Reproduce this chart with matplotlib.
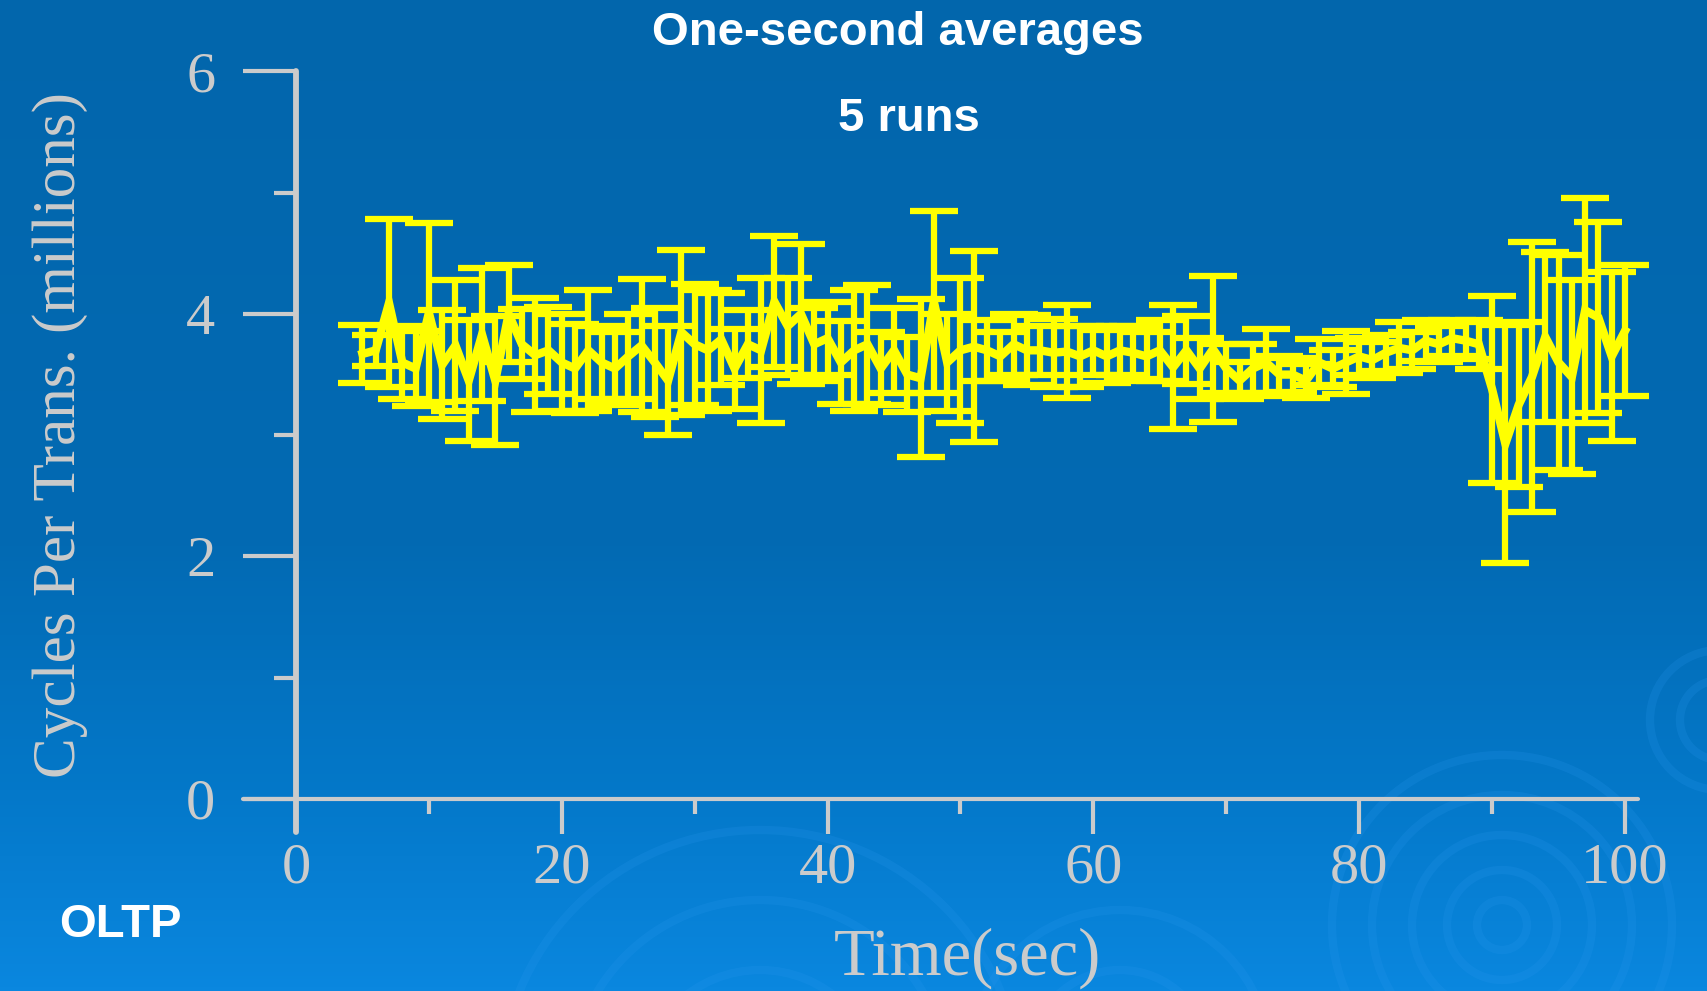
import numpy as np
import matplotlib
matplotlib.use("Agg")
import matplotlib.pyplot as plt
from matplotlib.colors import LinearSegmentedColormap
from matplotlib.patches import Circle

# one-second averages over 5 runs (millions of cycles per transaction)
seconds = list(range(5, 101))
cpt_mean = [
    3.67, 3.70, 4.09, 3.60, 3.55, 4.01, 3.58, 3.74, 3.45, 3.83,   # 5-14
    3.45, 4.00, 3.75, 3.66, 3.70, 3.60, 3.55, 3.70, 3.60, 3.55,   # 15-24
    3.65, 3.74, 3.60, 3.45, 3.85, 3.75, 3.70, 3.79, 3.55, 3.75,   # 25-34
    3.70, 4.10, 3.90, 4.00, 3.75, 3.80, 3.60, 3.70, 3.75, 3.55,   # 35-44
    3.70, 3.50, 3.47, 4.10, 3.60, 3.70, 3.73, 3.70, 3.65, 3.75,   # 45-54
    3.70, 3.70, 3.68, 3.69, 3.65, 3.70, 3.65, 3.70, 3.68, 3.65,   # 55-64
    3.70, 3.56, 3.70, 3.55, 3.71, 3.55, 3.45, 3.55, 3.60, 3.50,   # 65-74
    3.50, 3.45, 3.60, 3.55, 3.60, 3.65, 3.62, 3.68, 3.72, 3.70,   # 75-84
    3.78, 3.75, 3.80, 3.78, 3.75, 3.38, 2.93, 3.25, 3.48, 3.81,   # 85-94
    3.60, 3.48, 4.03, 3.97, 3.65, 3.86,                           # 95-100
]
cpt_err = [
    0.24, 0.13, 0.69, 0.30, 0.31, 0.74, 0.45, 0.54, 0.50, 0.55,
    0.53, 0.40, 0.29, 0.47, 0.36, 0.40, 0.37, 0.50, 0.30, 0.30,
    0.35, 0.55, 0.45, 0.45, 0.68, 0.50, 0.50, 0.38, 0.33, 0.28,
    0.60, 0.54, 0.40, 0.58, 0.30, 0.30, 0.34, 0.50, 0.49, 0.30,
    0.35, 0.31, 0.65, 0.75, 0.40, 0.60, 0.79, 0.25, 0.20, 0.25,
    0.29, 0.20, 0.28, 0.38, 0.25, 0.20, 0.22, 0.20, 0.22, 0.20,
    0.25, 0.51, 0.28, 0.25, 0.60, 0.20, 0.15, 0.20, 0.28, 0.15,
    0.14, 0.14, 0.19, 0.15, 0.26, 0.15, 0.15, 0.15, 0.21, 0.15,
    0.17, 0.15, 0.15, 0.15, 0.20, 0.77, 0.98, 0.68, 1.11, 0.70,
    0.89, 0.80, 0.93, 0.79, 0.70, 0.54,
]

x_major = [0, 20, 40, 60, 80, 100]
x_minor = [10, 30, 50, 70, 90]
y_major = [0, 2, 4, 6]
y_minor = [1, 3, 5]

AXIS_GREY = "#cbcbcb"
SERIF = ["Liberation Serif", "DejaVu Serif"]
SANS = ["Liberation Sans", "DejaVu Sans"]

W, H = 1707, 991
fig = plt.figure(figsize=(W / 100, H / 100), dpi=100)

# ── slide background: vertical blue gradient with faint ripples ──────
bg = fig.add_axes([0, 0, 1, 1], zorder=0)
grad = LinearSegmentedColormap.from_list(
    "slide", [(0.0, "#0266ac"), (0.55, "#026ab3"),
              (0.80, "#0478c9"), (1.0, "#0a87df")])
bg.imshow(np.linspace(0, 1, 256).reshape(-1, 1), cmap=grad,
          aspect="auto", extent=[0, W, H, 0], origin="upper")
for cx, cy, radii in [(1502, 925, [25, 55, 90, 130, 170]),
                      (760, 1090, [120, 190, 260]),
                      (1120, 1060, [90, 150]),
                      (1720, 720, [40, 70])]:
    for r in radii:
        bg.add_patch(Circle((cx, cy), r, fill=False, lw=6,
                            ec="#2a98ee", alpha=0.2))
bg.set_xlim(0, W)
bg.set_ylim(H, 0)
bg.axis("off")

# ── main chart ───────────────────────────────────────────────────────
ax = fig.add_axes([0.1111, 0.1326, 0.8720, 0.8320], zorder=1)
ax.set_facecolor("none")
ax.set_xlim(-8, 104)
ax.set_ylim(-0.5, 6.3)

ax.errorbar(seconds, cpt_mean, yerr=cpt_err, color="#ffff00",
            lw=6, elinewidth=4.5, capsize=17, capthick=4.5,
            solid_joinstyle="miter", zorder=3)

for side in ("top", "right"):
    ax.spines[side].set_visible(False)
ax.spines["left"].set_position(("data", 0))
ax.spines["bottom"].set_position(("data", 0))
ax.spines["left"].set_bounds(-0.27, 6)
ax.spines["bottom"].set_bounds(-4.0, 101)
ax.spines["left"].set_linewidth(4.2)
ax.spines["bottom"].set_linewidth(3)
for side in ("left", "bottom"):
    ax.spines[side].set_color(AXIS_GREY)
    ax.spines[side].set_capstyle("round")

ax.set_xticks(x_major)
ax.set_xticks(x_minor, minor=True)
ax.set_yticks(y_major)
ax.set_yticks(y_minor, minor=True)
ax.tick_params(axis="y", which="major", direction="out", length=38,
               width=3, color=AXIS_GREY, pad=20)
ax.tick_params(axis="y", which="minor", direction="out", length=16,
               width=3, color=AXIS_GREY)
ax.tick_params(axis="x", which="major", direction="out", length=25,
               width=3, color=AXIS_GREY, pad=6)
ax.tick_params(axis="x", which="minor", direction="out", length=11,
               width=3, color=AXIS_GREY)
for lab in ax.get_xticklabels() + ax.get_yticklabels():
    lab.set_family(SERIF)
    lab.set_fontsize(42)
    lab.set_color(AXIS_GREY)

# axis titles
fig.text(60 / W, 1 - 435 / H, "Cycles Per Trans. (millions)",
         rotation=90, ha="center", va="center", fontsize=44,
         color=AXIS_GREY, family=SERIF)
fig.text(967 / W, 1 - 958 / H, "Time(sec)", ha="center", va="center",
         fontsize=48, color=AXIS_GREY, family=SERIF)

# slide headings
fig.text(898 / W, 1 - 33 / H, "One-second averages", ha="center",
         va="center", fontsize=34, fontweight="bold", color="white",
         family=SANS)
fig.text(909 / W, 1 - 119 / H, "5 runs", ha="center", va="center",
         fontsize=34, fontweight="bold", color="white", family=SANS)
fig.text(120 / W, 1 - 925 / H, "OLTP", ha="center", va="center",
         fontsize=34, fontweight="bold", color="white", family=SANS)

fig.savefig("out.png", dpi=100)
